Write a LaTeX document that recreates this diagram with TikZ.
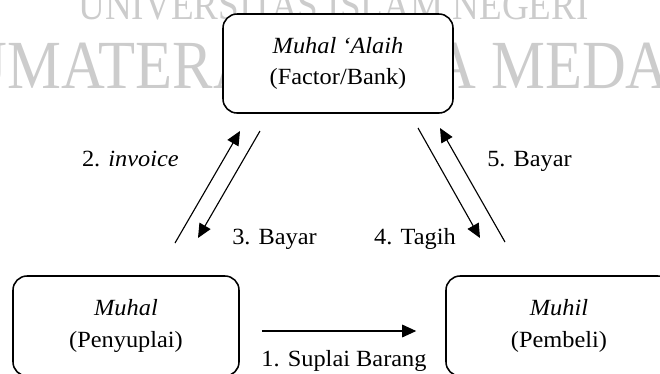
\documentclass[tikz,border=0pt]{standalone}
\usepackage{fontspec}
\setmainfont{Liberation Serif}
\usetikzlibrary{positioning,arrows.meta,calc}

\newcommand\lebar[1]{\scalebox{1.05}[1]{#1}}
\newcommand\sempit[1]{\scalebox{0.88}[1]{#1}}

\tikzset{
  pihak/.style={draw, line width=1.1pt, rounded corners=10pt, fill=white, align=center,
    minimum width=56.5mm, minimum height=25mm, font=\fontsize{16.5}{22.5}\selectfont},
  alur/.style={-{Triangle[length=10pt,width=9pt]}, line width=0.8pt},
  ket/.style={font=\fontsize{16.5}{20}\selectfont, inner sep=0pt},
  wm/.style={text=black!20, inner sep=0pt}
}

\begin{document}
\begin{tikzpicture}[x=0.25mm,y=-0.25mm]
  \clip (0,0) rectangle (660,373);
  % watermark
  \node[wm, anchor=base west, font=\fontsize{30}{30}\selectfont] (wm1) at (78,19) {\sempit{UNIVERSITAS ISLAM NEGERI}};
  \node[wm, anchor=base west, font=\fontsize{49}{49}\selectfont] (wm2) at (-70,88) {\sempit{SUMATERA UTARA MEDAN}};
  % pihak
  \node[pihak, minimum width=57.5mm, minimum height=24.75mm] (alaih) at (338,63.5) {\lebar{\textit{Muhal ‘Alaih}}\\\lebar{(Factor/Bank)}};
  \node[pihak] (muhal) at (126,326) {\lebar{\textit{Muhal}}\\\lebar{(Penyuplai)}};
  \node[pihak] (muhil) at (559,326) {\lebar{\textit{Muhil}}\\\lebar{(Pembeli)}};
  % ujung panah
  \coordinate (a2) at (175,243); \coordinate (b2) at (240,131);
  \coordinate (a3) at (260,131); \coordinate (b3) at (198,238);
  \coordinate (a4) at (418,128); \coordinate (b4) at (480,238);
  \coordinate (a5) at (505,242); \coordinate (b5) at (440,128);
  % alur
  \draw[alur] ($(muhal.east)+(22,5)$) -- ($(muhil.west)+(-29,5)$);
  \draw[alur] (a2) -- (b2);
  \draw[alur] (a3) -- (b3);
  \draw[alur] (a4) -- (b4);
  \draw[alur] (a5) -- (b5);
  % keterangan
  \node[ket, anchor=base] (k1) at (344,366) {\lebar{1. Suplai Barang}};
  \node[ket, anchor=base east] (k2) at (179,166) {\lebar{2. \textit{invoice}}};
  \node[ket, anchor=base west] (k3) at (232,244) {\lebar{3. Bayar}};
  \node[ket, anchor=base east] (k4) at (456,244) {\lebar{4. Tagih}};
  \node[ket, anchor=base west] (k5) at (487,166) {\lebar{5. Bayar}};
\end{tikzpicture}
\end{document}
